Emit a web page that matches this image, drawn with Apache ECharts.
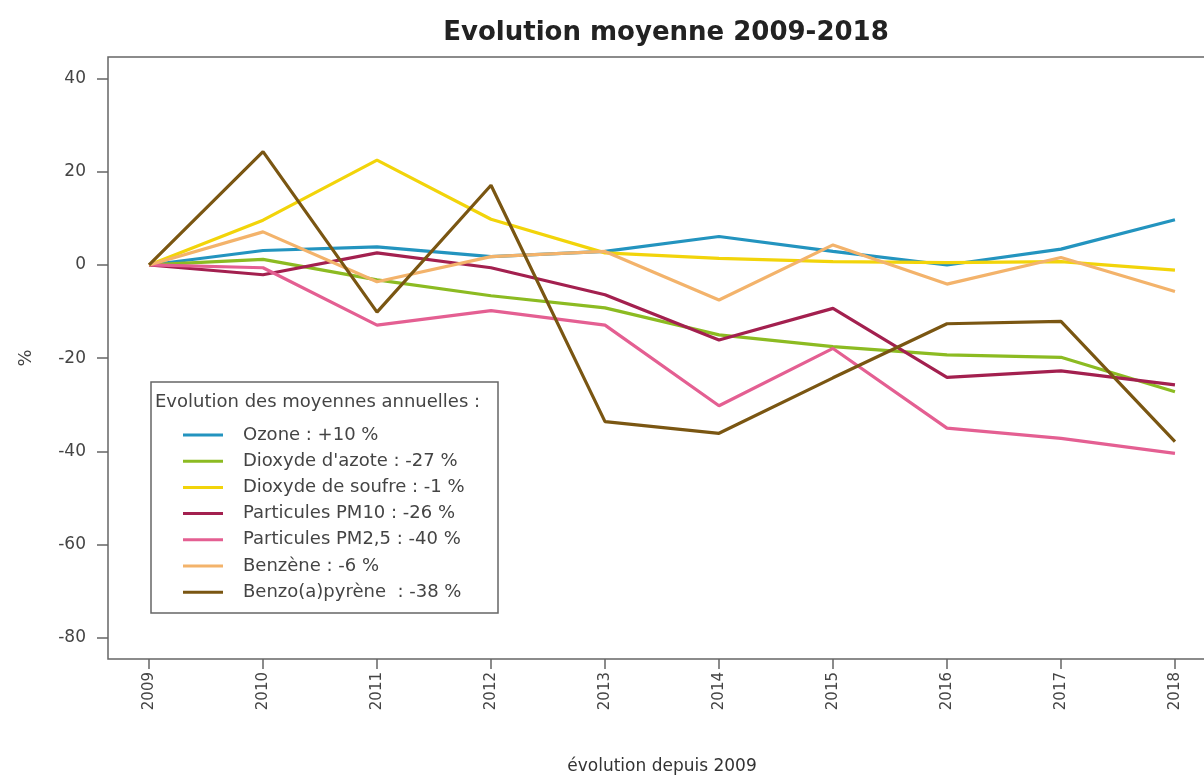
<!DOCTYPE html>
<html>
<head>
<meta charset="utf-8">
<title>Evolution moyenne 2009-2018</title>
<script src="https://cdn.jsdelivr.net/npm/echarts@6/dist/echarts.min.js"></script>
<style>
  html, body { margin: 0; padding: 0; background: #fff; }
  #main { width: 1204px; height: 778px; }
</style>
</head>
<body>
<div id="main"></div>
<script>
// années et graduations
const years = [2009, 2010, 2011, 2012, 2013, 2014, 2015, 2016, 2017, 2018];
const yTicks = [-80, -60, -40, -20, 0, 20, 40];

// évolution en % depuis 2009
const ozone = [0, 3.1, 3.9, 1.8, 2.9, 6.1, 2.9, 0, 3.4, 9.7];
const dioxydeAzote = [0, 1.2, -3.2, -6.6, -9.2, -15, -17.5, -19.3, -19.8, -27.2];
const dioxydeSoufre = [0, 9.6, 22.5, 9.8, 2.6, 1.4, 0.7, 0.5, 0.7, -1.1];
const pm10 = [0, -2.1, 2.6, -0.6, -6.4, -16.1, -9.3, -24.1, -22.7, -25.7];
const pm25 = [0, -0.6, -12.9, -9.8, -12.9, -30.2, -17.9, -35, -37.2, -40.4];
const benzene = [0, 7.1, -3.6, 1.8, 2.9, -7.5, 4.3, -4.1, 1.6, -5.7];
const benzoPyrene = [0, 24.3, -10.1, 17.1, -33.6, -36.1, -24.2, -12.6, -12.1, -37.9];

const names = [
  "Ozone : +10 %",
  "Dioxyde d'azote : -27 %",
  "Dioxyde de soufre : -1 %",
  "Particules PM10 : -26 %",
  "Particules PM2,5 : -40 %",
  "Benzène : -6 %",
  "Benzo(a)pyrène  : -38 %"
];
const values = [ozone, dioxydeAzote, dioxydeSoufre, pm10, pm25, benzene, benzoPyrene];
const colors = ["#2394bf", "#8cbb22", "#f2d40a", "#a3204f", "#e45f92", "#f3b36b", "#7a5612"];

const font = "'DejaVu Sans', 'Liberation Sans', sans-serif";

let myChart = echarts.init(document.getElementById("main"));

let series = names.map(function(name, i) {
  return {
    name: name,
    type: "line",
    symbol: "none",
    z: 2,
    data: years.map(function(y, j) {
      return [y, values[i][j]];
    }),
    lineStyle: { width: 3.2, color: colors[i] },
    itemStyle: { color: colors[i] }
  };
});

let option = {
  backgroundColor: "#fff",
  animation: false,
  title: {
    text: "Evolution moyenne 2009-2018",
    left: 661,
    textAlign: "center",
    top: 15,
    textStyle: { fontFamily: font, fontSize: 26, fontWeight: "bold", color: "#222" }
  },
  grid: {
    left: 108,
    right: -12,
    top: 57,
    bottom: 119,
    outerBoundsMode: "none",
    show: true,
    borderColor: "#666",
    borderWidth: 1.5
  },
  xAxis: {
    type: "value",
    min: 2008.64,
    max: 2018.36,
    name: "évolution depuis 2009",
    nameLocation: "middle",
    nameGap: 99,
    nameTextStyle: { fontFamily: font, fontSize: 17, color: "#333" },
    axisLine: { show: false, onZero: false },
    splitLine: { show: false },
    axisTick: {
      show: true,
      length: 10,
      customValues: years,
      lineStyle: { color: "#666", width: 1.5 }
    },
    axisLabel: {
      customValues: years,
      rotate: 90,
      margin: 13,
      fontFamily: font,
      fontSize: 15,
      color: "#444",
      formatter: function(v) {
        return String(v);
      }
    }
  },
  yAxis: {
    type: "value",
    min: -84.5,
    max: 44.6,
    name: "%",
    nameLocation: "middle",
    nameGap: 73,
    nameRotate: 90,
    nameTextStyle: { fontFamily: font, fontSize: 18, color: "#444" },
    axisLine: { show: false, onZero: false },
    splitLine: { show: false },
    axisTick: {
      show: true,
      length: 11,
      customValues: yTicks,
      lineStyle: { color: "#666", width: 1.5 }
    },
    axisLabel: {
      customValues: yTicks,
      margin: 22,
      fontFamily: font,
      fontSize: 17,
      color: "#444"
    }
  },
  legend: {
    orient: "vertical",
    left: 183,
    top: 425,
    z: 20,
    padding: 0,
    icon: "rect",
    itemWidth: 40,
    itemHeight: 3,
    itemGap: 6.2,
    data: names,
    textStyle: {
      fontFamily: font,
      fontSize: 18,
      lineHeight: 20,
      color: "#444",
      padding: [0, 0, 0, 15]
    }
  },
  graphic: [
    {
      type: "rect",
      z: 10,
      shape: { x: 151, y: 382, width: 347, height: 231 },
      style: { fill: "#fff", stroke: "#666", lineWidth: 1.5 }
    },
    {
      type: "text",
      z: 11,
      x: 155,
      y: 402,
      style: {
        text: "Evolution des moyennes annuelles :",
        fontFamily: font,
        fontSize: 18,
        fill: "#444",
        verticalAlign: "middle"
      }
    }
  ],
  series: series
};

myChart.setOption(option);
</script>
</body>
</html>
